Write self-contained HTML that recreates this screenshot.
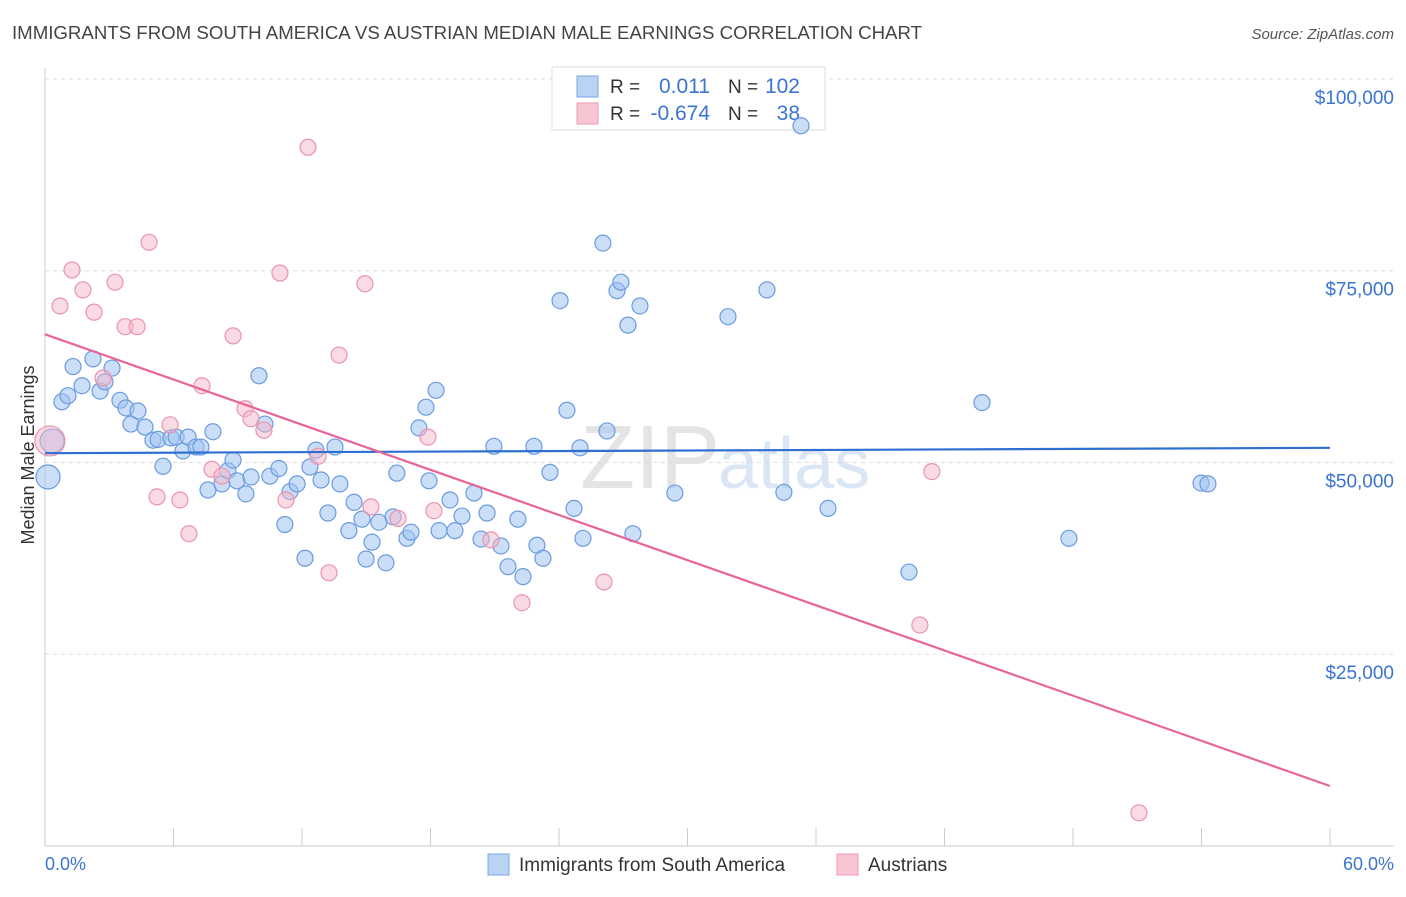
<!DOCTYPE html>
<html><head><meta charset="utf-8"><style>
body{margin:0;background:#fff;font-family:"Liberation Sans",sans-serif;}
svg text{font-family:"Liberation Sans",sans-serif;}
</style></head><body>
<svg id="chart" width="1406" height="892" viewBox="0 0 1406 892">
<text x="12" y="39" font-size="18" fill="#444" textLength="910" lengthAdjust="spacingAndGlyphs">IMMIGRANTS FROM SOUTH AMERICA VS AUSTRIAN MEDIAN MALE EARNINGS CORRELATION CHART</text>
<text x="1394" y="39" font-size="15" fill="#555" text-anchor="end" font-style="italic">Source: ZipAtlas.com</text>
<text x="720" y="488" font-size="90" fill="#e4e4e4" text-anchor="end" font-family="Liberation Serif">ZIP</text>
<text x="718" y="488" font-size="72" fill="#dbe6f5">atlas</text>
<g id="grid"></g>
<g id="axes"></g>
<g>
<rect x="552" y="67" width="273" height="63" fill="#fff" stroke="#ddd"/>
<rect x="577" y="76" width="21" height="21" fill="#b9d3f3" stroke="#7aa7e3"/>
<text x="610" y="93" font-size="19" fill="#333">R =</text>
<text x="710" y="93" font-size="21" fill="#3a74d0" text-anchor="end">0.011</text>
<text x="728" y="93" font-size="19" fill="#333">N =</text>
<text x="800" y="93" font-size="21" fill="#3a74d0" text-anchor="end">102</text>
<rect x="577" y="103" width="21" height="21" fill="#f8c6d3" stroke="#eb9ab2"/>
<text x="610" y="120" font-size="19" fill="#333">R =</text>
<text x="710" y="120" font-size="21" fill="#3a74d0" text-anchor="end">-0.674</text>
<text x="728" y="120" font-size="19" fill="#333">N =</text>
<text x="800" y="120" font-size="21" fill="#3a74d0" text-anchor="end">38</text>
</g>
<g id="pts"></g>
<g id="lines"></g>
<text x="34" y="455" font-size="18" fill="#333" text-anchor="middle" transform="rotate(-90 34 455)">Median Male Earnings</text>
<text x="45" y="870" font-size="18" fill="#3a74d0">0.0%</text>
<text x="1394" y="870" font-size="18" fill="#3a74d0" text-anchor="end">60.0%</text>
<g>
<rect x="488" y="854" width="21" height="21" fill="#b9d3f3" stroke="#7aa7e3"/>
<text x="519" y="871" font-size="19" fill="#333">Immigrants from South America</text>
<rect x="837" y="854" width="21" height="21" fill="#f8c6d3" stroke="#eb9ab2"/>
<text x="868" y="871" font-size="19" fill="#333">Austrians</text>
</g>
</svg>
<script>
const yTicks=[25000,50000,75000,100000];
const yTickLabels=["$25,000","$50,000","$75,000","$100,000"];
const xTicks=[0,6,12,18,24,30,36,42,48,54,60];
const blueX=[0.14,0.33,0.79,1.07,1.31,1.73,2.24,2.57,2.80,3.13,3.50,3.78,4.01,4.34,4.67,5.04,5.28,5.51,5.88,6.12,6.44,6.68,7.05,7.28,7.61,7.84,8.26,8.54,8.78,8.96,9.38,9.62,9.99,10.27,10.50,10.92,11.20,11.44,11.77,12.14,12.37,12.65,12.89,13.21,13.54,13.77,14.19,14.43,14.80,14.99,15.27,15.59,15.92,16.25,16.43,16.90,17.09,17.46,17.79,17.93,18.26,18.40,18.91,19.14,19.47,20.03,20.36,20.64,20.96,21.29,21.62,22.08,22.32,22.83,22.97,23.25,23.58,24.05,24.37,24.70,24.98,25.12,26.05,26.24,26.71,26.89,27.22,27.45,27.78,29.41,31.89,33.71,34.50,35.30,36.56,40.34,43.75,47.81,53.98,54.30];
const blueY=[48.1,52.8,57.9,58.7,62.5,60.0,63.5,59.3,60.5,62.3,58.1,57.1,55.0,56.7,54.6,52.9,53.0,49.5,53.2,53.3,51.5,53.3,52.0,52.0,46.4,54.0,47.2,48.9,50.3,47.6,45.9,48.1,61.3,55.0,48.2,49.2,41.9,46.2,47.2,37.5,49.4,51.6,47.7,43.4,52.0,47.2,41.1,44.8,42.6,37.4,39.6,42.2,36.9,42.9,48.6,40.1,40.9,54.5,57.2,47.6,59.4,41.1,45.1,41.1,43.0,46.0,40.0,43.4,52.1,39.1,36.4,42.6,35.1,52.1,39.2,37.5,48.7,71.1,56.8,44.0,51.9,40.1,78.6,54.1,72.4,73.5,67.9,40.7,70.4,46.0,69.0,72.5,46.1,93.9,44.0,35.7,57.8,40.1,47.3,47.2];
const pinkX=[0.23,0.70,1.26,1.77,2.29,2.71,3.27,3.74,4.30,4.86,5.23,5.84,6.30,6.72,7.33,7.80,8.26,8.78,9.34,9.62,10.22,10.97,11.25,12.28,12.75,13.26,13.73,14.94,15.22,16.48,17.88,18.16,20.82,22.27,26.10,40.85,41.41,51.08];
const pinkY=[52.8,70.4,75.1,72.5,69.6,61.0,73.5,67.7,67.7,78.7,45.5,54.9,45.1,40.7,60.0,49.1,48.2,66.5,57.0,55.7,54.2,74.7,45.1,91.1,50.8,35.6,64.0,73.3,44.2,42.7,53.3,43.7,39.9,31.7,34.4,28.8,48.8,4.3];
const blueTrend=[51.2,51.9];
const pinkTrend=[66.7,7.8];
const NS="http://www.w3.org/2000/svg";
const X0=45,X1=1330,Y0=845.8,YPER=191.7/25;
function sx(v){return X0+(v/60)*(X1-X0);}
function sy(k){return Y0-k*YPER;}
function mk(tag,attrs,parent){const e=document.createElementNS(NS,tag);for(const k in attrs)e.setAttribute(k,attrs[k]);parent.appendChild(e);return e;}
const grid=document.getElementById('grid'),axes=document.getElementById('axes'),pts=document.getElementById('pts'),lines=document.getElementById('lines');
yTicks.forEach((t,i)=>{
  const y=sy(t/1000);
  const l=mk('line',{x1:45,x2:1394,y1:y,y2:y,stroke:'#ddd','stroke-dasharray':'4,4'},grid);
  
  
  const tx=mk('text',{x:1394,y:y+25,'font-size':19,fill:'#3a74d0','text-anchor':'end'},grid);
  tx.textContent=yTickLabels[i];
  
  
});
const tl=mk('line',{x1:45,x2:1394,y1:79,y2:79,stroke:'#ddd','stroke-dasharray':'4,4'},grid);


const ya=mk('line',{x1:45,x2:45,y1:68,y2:846,stroke:'#ccc'},axes);


const xa=mk('line',{x1:45,x2:1394,y1:846,y2:846,stroke:'#ccc'},axes);


xTicks.forEach(t=>{
  const x=sx(t);
  const l=mk('line',{x1:x,x2:x,y1:828,y2:846,stroke:'#ccc'},axes);
  
  
});
blueX.forEach((x,i)=>{
  const c=mk('circle',{cx:sx(x),cy:sy(blueY[i]),r:i<2?12:8,fill:'rgba(160,195,240,0.55)',stroke:'#6a9be0','stroke-width':1.2},pts);
  
  
});
pinkX.forEach((x,i)=>{
  const c=mk('circle',{cx:sx(x),cy:sy(pinkY[i]),r:i<1?15:8,fill:'rgba(246,182,200,0.5)',stroke:'#eb93ae','stroke-width':1.2},pts);
  
  
});
const bl=mk('line',{x1:sx(0),y1:sy(blueTrend[0]),x2:sx(60),y2:sy(blueTrend[1]),stroke:'#2f6fd1','stroke-width':2.2},lines);


const pl=mk('line',{x1:sx(0),y1:sy(pinkTrend[0]),x2:sx(60),y2:sy(pinkTrend[1]),stroke:'#e8649a','stroke-width':2.2},lines);


</script>
</body></html>
